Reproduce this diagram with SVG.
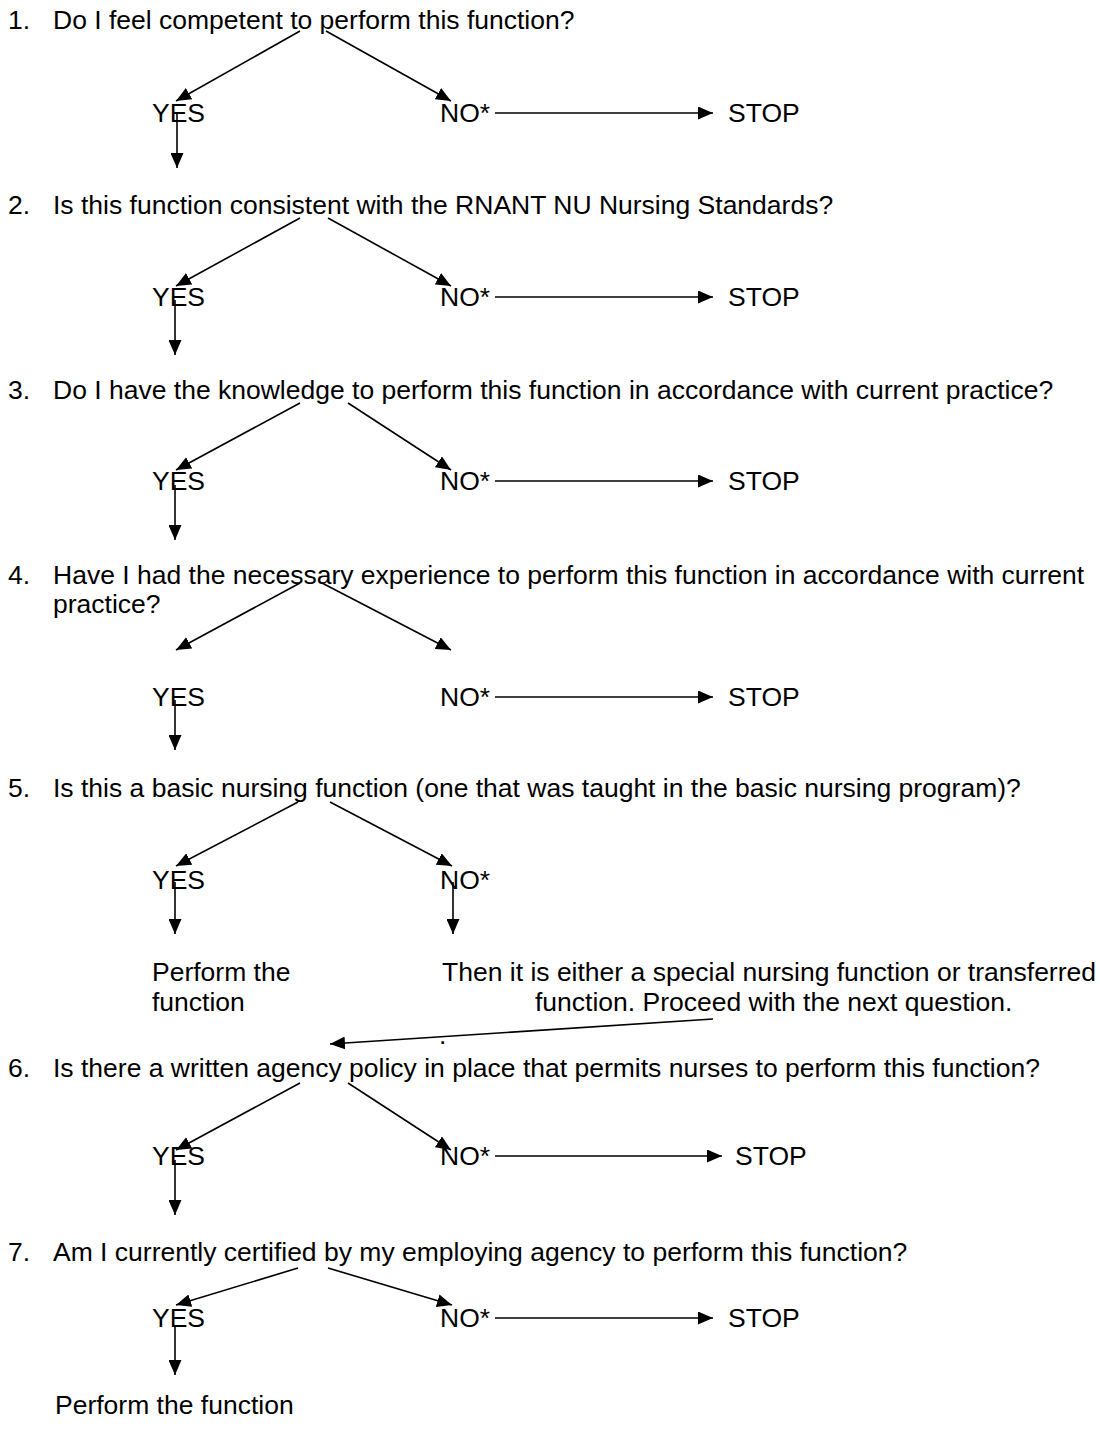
<svg xmlns="http://www.w3.org/2000/svg" width="1100" height="1442" viewBox="0 0 1100 1442">
<style>
text { font-family: "Liberation Sans", Arial, sans-serif; font-size: 26.5px; fill: #000; }
.c { stroke: #000; stroke-width: 1.6; fill: none; marker-end: url(#ah); }
</style>
<defs>
<marker id="ah" viewBox="0 0 15 13" refX="15" refY="6.5" markerWidth="15" markerHeight="13" markerUnits="userSpaceOnUse" orient="auto">
<path d="M0,0 L15,6.5 L0,13 z" fill="#000"/>
</marker>
</defs>
<rect width="1100" height="1442" fill="#fff"/>

<g id="q1"><text x="8" y="29">1.</text><text x="53" y="29">Do I feel competent to perform this function?</text></g>
<g id="yes1"><text x="152" y="122">YES</text></g>
<g id="no1"><text x="440" y="122">NO*</text></g>
<g id="stop1"><text x="728" y="122">STOP</text></g>

<g id="q2"><text x="8" y="214">2.</text><text x="53" y="214">Is this function consistent with the RNANT NU Nursing Standards?</text></g>
<g id="yes2"><text x="152" y="306">YES</text></g>
<g id="no2"><text x="440" y="306">NO*</text></g>
<g id="stop2"><text x="728" y="306">STOP</text></g>

<g id="q3"><text x="8" y="399">3.</text><text x="53" y="399">Do I have the knowledge to perform this function in accordance with current practice?</text></g>
<g id="yes3"><text x="152" y="490">YES</text></g>
<g id="no3"><text x="440" y="490">NO*</text></g>
<g id="stop3"><text x="728" y="490">STOP</text></g>

<g id="q4"><text x="8" y="584">4.</text><text x="53" y="584">Have I had the necessary experience to perform this function in accordance with current</text><text x="53" y="613">practice?</text></g>
<g id="yes4"><text x="152" y="706">YES</text></g>
<g id="no4"><text x="440" y="706">NO*</text></g>
<g id="stop4"><text x="728" y="706">STOP</text></g>

<g id="q5"><text x="8" y="797">5.</text><text x="53" y="797">Is this a basic nursing function (one that was taught in the basic nursing program)?</text></g>
<g id="yes5"><text x="152" y="889">YES</text></g>
<g id="no5"><text x="440" y="889">NO*</text></g>
<g id="perform5"><text x="152" y="981">Perform the</text><text x="152" y="1011">function</text></g>
<g id="then5"><text x="442" y="981">Then it is either a special nursing function or transferred</text><text x="535" y="1011">function. Proceed with the next question.</text><text x="439" y="1044">.</text></g>

<g id="q6"><text x="8" y="1077">6.</text><text x="53" y="1077">Is there a written agency policy in place that permits nurses to perform this function?</text></g>
<g id="yes6"><text x="152" y="1165">YES</text></g>
<g id="no6"><text x="440" y="1165">NO*</text></g>
<g id="stop6"><text x="735" y="1165">STOP</text></g>

<g id="q7"><text x="8" y="1261">7.</text><text x="53" y="1261">Am I currently certified by my employing agency to perform this function?</text></g>
<g id="yes7"><text x="152" y="1327">YES</text></g>
<g id="no7"><text x="440" y="1327">NO*</text></g>
<g id="stop7"><text x="728" y="1327">STOP</text></g>
<g id="perform7"><text x="55" y="1414">Perform the function</text></g>

<g id="connectors">
<line class="c" x1="300" y1="31" x2="176" y2="101"/>
<line class="c" x1="326" y1="31" x2="451" y2="101"/>
<line class="c" x1="177" y1="112" x2="177" y2="168"/>
<line class="c" x1="495" y1="113" x2="713" y2="113"/>

<line class="c" x1="300" y1="218" x2="176" y2="286"/>
<line class="c" x1="328" y1="218" x2="451" y2="286"/>
<line class="c" x1="175" y1="300" x2="175" y2="355"/>
<line class="c" x1="495" y1="297" x2="713" y2="297"/>

<line class="c" x1="300" y1="403" x2="176" y2="470"/>
<line class="c" x1="348" y1="403" x2="451" y2="470"/>
<line class="c" x1="175" y1="485" x2="175" y2="540"/>
<line class="c" x1="495" y1="481" x2="713" y2="481"/>

<line class="c" x1="300" y1="583" x2="176" y2="650"/>
<line class="c" x1="322" y1="583" x2="451" y2="650"/>
<line class="c" x1="175" y1="700" x2="175" y2="750"/>
<line class="c" x1="495" y1="697" x2="713" y2="697"/>

<line class="c" x1="298" y1="802" x2="176" y2="866"/>
<line class="c" x1="330" y1="802" x2="452" y2="866"/>
<line class="c" x1="175" y1="882" x2="175" y2="934"/>
<line class="c" x1="453" y1="882" x2="453" y2="934"/>
<line class="c" x1="713" y1="1019" x2="330" y2="1044"/>

<line class="c" x1="300" y1="1083" x2="176" y2="1150"/>
<line class="c" x1="348" y1="1083" x2="451" y2="1150"/>
<line class="c" x1="175" y1="1160" x2="175" y2="1215"/>
<line class="c" x1="495" y1="1156" x2="722" y2="1156"/>

<line class="c" x1="298" y1="1268" x2="176" y2="1305"/>
<line class="c" x1="328" y1="1268" x2="452" y2="1305"/>
<line class="c" x1="175" y1="1325" x2="175" y2="1375"/>
<line class="c" x1="495" y1="1318" x2="713" y2="1318"/>
</g>
</svg>
